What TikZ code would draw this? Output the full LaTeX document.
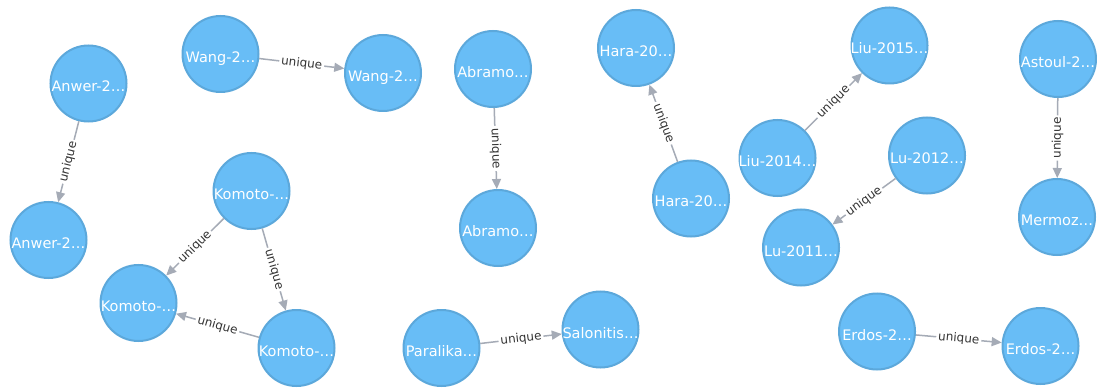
\documentclass[tikz,border=0pt]{standalone}
\usepackage{fontspec}
\setmainfont{DejaVu Sans}
\usetikzlibrary{arrows.meta}
\definecolor{nfill}{HTML}{68BDF6}
\definecolor{nline}{HTML}{5CA8DB}
\definecolor{eline}{HTML}{A5ABB6}
\definecolor{etext}{HTML}{333333}
\newcommand{\ntx}[1]{\raisebox{-8.5pt}[0pt][0pt]{\makebox[0pt]{#1}}}
\tikzset{
  gnode/.style={circle, fill=nfill, draw=nline, line width=2pt, minimum size=76pt,
    inner sep=0pt, text=white, font=\fontsize{14.5}{17}\selectfont},
  rel/.style={draw=eline, line width=1.5pt, -{Triangle[length=10pt,width=9pt]}},
  rlab/.style={sloped, midway, fill=white, inner sep=2pt, text=etext,
    font=\fontsize{12}{14}\selectfont}
}
\begin{document}
\begin{tikzpicture}[x=1pt, y=-1pt]
\fill[white] (0,0) rectangle (1097,390);
\useasboundingbox (0,0) rectangle (1097,390);

\node[gnode] (anw1) at (88.5,83.5) {\ntx{Anwer-2…}};
\node[gnode] (anw2) at (48.5,240) {\ntx{Anwer-2…}};
\node[gnode] (wan1) at (220.5,54) {\ntx{Wang-2…}};
\node[gnode] (wan2) at (383,73) {\ntx{Wang-2…}};
\node[gnode] (kom1) at (251.5,191) {\ntx{Komoto-…}};
\node[gnode] (kom2) at (138.5,303) {\ntx{Komoto-…}};
\node[gnode] (kom3) at (296.5,348) {\ntx{Komoto-…}};
\node[gnode] (abr1) at (493,69) {\ntx{Abramo…}};
\node[gnode] (abr2) at (498,228) {\ntx{Abramo…}};
\node[gnode] (par) at (441.5,348) {\ntx{Paralika…}};
\node[gnode] (sal) at (600.5,329.5) {\ntx{Salonitis…}};
\node[gnode] (har1) at (636,48) {\ntx{Hara-20…}};
\node[gnode] (har2) at (691,198.5) {\ntx{Hara-20…}};
\node[gnode] (liu15) at (889.5,45.5) {\ntx{Liu-2015…}};
\node[gnode] (liu14) at (777.5,158) {\ntx{Liu-2014…}};
\node[gnode] (lu12) at (927,155.5) {\ntx{Lu-2012…}};
\node[gnode] (lu11) at (801,247.5) {\ntx{Lu-2011…}};
\node[gnode] (ast) at (1058,59) {\ntx{Astoul-2…}};
\node[gnode] (mer) at (1057,217) {\ntx{Mermoz…}};
\node[gnode] (erd1) at (877,331.5) {\ntx{Erdos-2…}};
\node[gnode] (erd2) at (1040.5,346) {\ntx{Erdos-2…}};

\draw[rel] (anw1) -- node[rlab] (l1) {unique} (anw2);
\draw[rel] (wan1) -- node[rlab] (l2) {unique} (wan2);
\draw[rel] (kom1) -- node[rlab] (l3) {unique} (kom2);
\draw[rel] (kom1) -- node[rlab] (l4) {unique} (kom3);
\draw[rel] (kom3) -- node[rlab] (l5) {unique} (kom2);
\draw[rel] (abr1) -- node[rlab] (l6) {unique} (abr2);
\draw[rel] (par) -- node[rlab] (l7) {unique} (sal);
\draw[rel] (har2) -- node[rlab] (l8) {unique} (har1);
\draw[rel] (liu14) -- node[rlab] (l9) {unique} (liu15);
\draw[rel] (lu12) -- node[rlab] (l10) {unique} (lu11);
\draw[rel] (ast) -- node[rlab] (l11) {unique} (mer);
\draw[rel] (erd1) -- node[rlab] (l12) {unique} (erd2);
\end{tikzpicture}
\end{document}
